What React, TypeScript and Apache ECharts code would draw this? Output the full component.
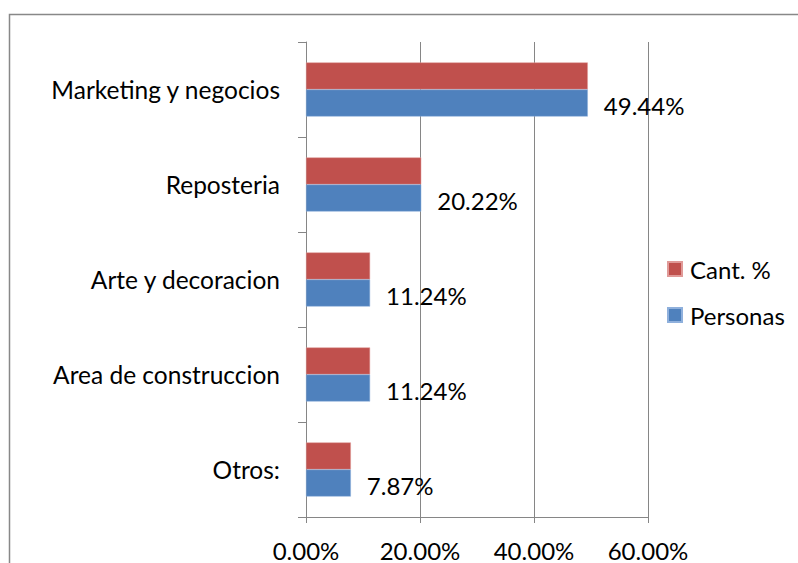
import React, { useEffect, useRef } from "react";
import * as echarts from "echarts";

const categories = ["Otros:", "Area de construccion", "Arte y decoracion", "Reposteria", "Marketing y negocios"];
const personas = [7.87, 11.24, 11.24, 20.22, 49.44];
const cantPct = [7.87, 11.24, 11.24, 20.22, 49.44];
const seriesNames = ["Cant. %", "Personas"];
const FONT = "Lato";

export default function App() {
  const ref = useRef<HTMLDivElement>(null);
  useEffect(() => {
    const chart = echarts.init(ref.current!, null, { renderer: "svg" });
    chart.setOption({
      animation: false,
      backgroundColor: "#ffffff",
      textStyle: { fontFamily: FONT },
      graphic: [
        {
          type: "rect",
          shape: { x: 9.5, y: 14.5, width: 820, height: 600 },
          style: { fill: "none", stroke: "#888888", lineWidth: 1.5 },
          silent: true,
        },
      ],
      legend: {
        data: seriesNames,
        orient: "vertical",
        left: 667,
        top: 257,
        padding: 0,
        itemWidth: 14,
        itemHeight: 14,
        itemGap: 22,
        icon: "rect",
        textStyle: { fontFamily: FONT, fontSize: 24, color: "#000", padding: [0, 0, 0, 3] },
      },
      grid: { left: 306, top: 42, width: 342, height: 475, containLabel: false },
      xAxis: {
        type: "value",
        min: 0,
        max: 60,
        interval: 20,
        axisLine: { show: true, lineStyle: { color: "#868686" } },
        axisTick: { show: true, length: 6, lineStyle: { color: "#868686" } },
        splitLine: { show: true, lineStyle: { color: "#868686", width: 1 } },
        axisLabel: {
          fontFamily: FONT,
          fontSize: 24,
          color: "#000",
          margin: 21,
          formatter: (v: number) => v.toFixed(2) + "%",
        },
      },
      yAxis: {
        type: "category",
        data: categories,
        axisLine: { show: true, lineStyle: { color: "#868686" } },
        axisTick: { show: true, length: 8, alignWithLabel: false, lineStyle: { color: "#868686" } },
        axisLabel: { fontFamily: FONT, fontSize: 24.5, color: "#000", margin: 26 },
      },
      series: [
        {
          name: "Cant. %",
          type: "bar",
          data: cantPct,
          barCategoryGap: "43%",
          barGap: "0%",
          itemStyle: { color: "#C0504D", borderColor: "#e09a98", borderWidth: 0.5 },
        },
        {
          name: "Personas",
          type: "bar",
          data: personas,
          barCategoryGap: "43%",
          barGap: "0%",
          itemStyle: { color: "#4F81BD", borderColor: "#8fb0dc", borderWidth: 0.5 },
          label: {
            show: true,
            position: "right",
            distance: 16,
            fontFamily: FONT,
            fontSize: 24,
            color: "#000",
            offset: [0, 2],
            formatter: (p: any) => Number(p.value).toFixed(2) + "%",
          },
        },
      ],
    });
    return () => chart.dispose();
  }, []);
  return (
    <div
      ref={ref}
      style={{ position: "fixed", left: 0, top: 0, width: 798, height: 563 }}
    />
  );
}
